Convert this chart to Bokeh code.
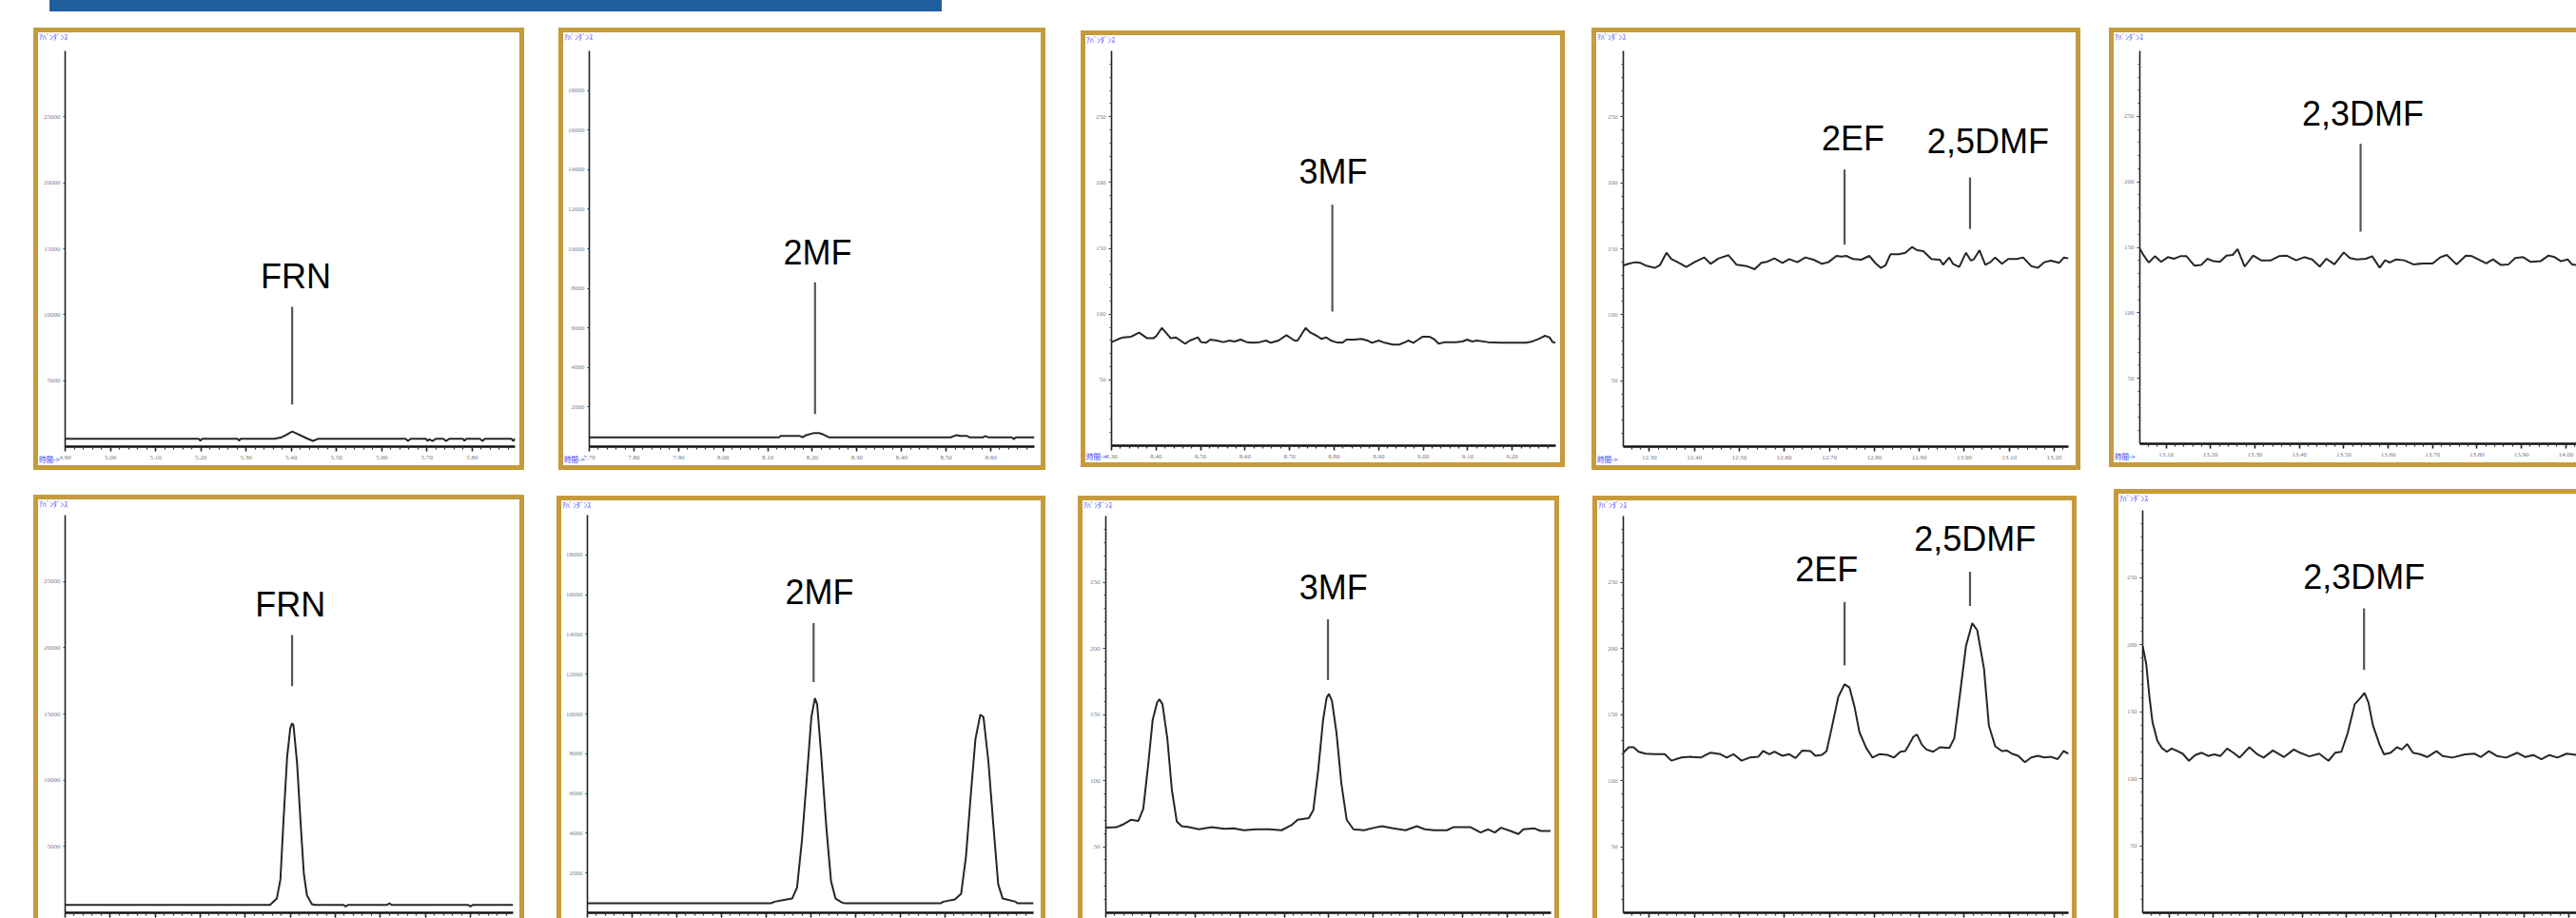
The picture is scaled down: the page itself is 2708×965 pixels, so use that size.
import numpy as np
from bokeh.plotting import figure
from bokeh.models import (ColumnDataSource, FixedTicker, PrintfTickFormatter,
                          Range1d, Spacer, Div)
from bokeh.layouts import row, column
from bokeh.core.properties import value
from bokeh.embed import file_html
from bokeh.resources import INLINE

# ====================== DATA ======================
# tick labels (retention time, min) and abundance ticks
x_ticks_frn = [4.90, 5.00, 5.10, 5.20, 5.30, 5.40, 5.50, 5.60, 5.70, 5.80]
x_ticks_2mf = [7.70, 7.80, 7.90, 8.00, 8.10, 8.20, 8.30, 8.40, 8.50, 8.60]
x_ticks_3mf = [8.30, 8.40, 8.50, 8.60, 8.70, 8.80, 8.90, 9.00, 9.10, 9.20]
x_ticks_ef = [12.30, 12.40, 12.50, 12.60, 12.70, 12.80, 12.90, 13.00, 13.10, 13.20]
x_ticks_dmf = [13.10, 13.20, 13.30, 13.40, 13.50, 13.60, 13.70, 13.80, 13.90, 14.00]
y_ticks_frn = [5000, 10000, 15000, 20000, 25000]
y_ticks_2mf = [2000, 4000, 6000, 8000, 10000, 12000, 14000, 16000, 18000]
y_ticks_low = [50, 100, 150, 200, 250]

# --- top row (sample) ---
frn_top_t = [4.900, 5.195, 5.199, 5.203, 5.281, 5.285, 5.288, 5.363, 5.378, 5.389, 5.402, 5.415,
             5.433, 5.448, 5.460, 5.653, 5.658, 5.664, 5.698, 5.701, 5.705, 5.713, 5.720, 5.736,
             5.742, 5.750, 5.779, 5.783, 5.787, 5.817, 5.823, 5.828, 5.887, 5.891, 5.895]
frn_top_y = [600, 600, 450, 600, 600, 450, 600, 600, 700, 900, 1150, 950, 650, 430, 600, 600,
             430, 600, 600, 430, 550, 430, 600, 600, 430, 600, 600, 450, 600, 600, 430, 600,
             600, 430, 600]

mf2_top_t = [7.700, 8.125, 8.129, 8.172, 8.178, 8.186, 8.204, 8.215, 8.226, 8.237, 8.510, 8.523,
             8.532, 8.547, 8.552, 8.583, 8.588, 8.594, 8.647, 8.652, 8.656, 8.698]
mf2_top_y = [470, 470, 540, 540, 470, 580, 690, 690, 600, 470, 470, 580, 540, 540, 470, 470,
             540, 470, 470, 380, 470, 470]

mf3_top_t = [8.300, 8.316, 8.326, 8.344, 8.362, 8.380, 8.394, 8.401, 8.413, 8.433,
             8.444, 8.455, 8.465, 8.476, 8.494, 8.501, 8.512, 8.522, 8.536, 8.551,
             8.565, 8.576, 8.590, 8.604, 8.618, 8.633, 8.647, 8.658, 8.675, 8.693,
             8.711, 8.718, 8.736, 8.747, 8.761, 8.772, 8.782, 8.793, 8.804, 8.818,
             8.828, 8.846, 8.861, 8.875, 8.885, 8.900, 8.914, 8.932, 8.946, 8.960,
             8.967, 8.978, 8.989, 8.999, 9.014, 9.024, 9.035, 9.049, 9.074, 9.088,
             9.099, 9.110, 9.121, 9.145, 9.174, 9.202, 9.231, 9.245, 9.259, 9.274,
             9.284, 9.291, 9.297]
mf3_top_y = [78.7, 81.1, 82.3, 82.8, 85.9, 81.6, 81.6, 83.5, 89.5, 81.6,
             82.3, 79.9, 77.5, 79.9, 82.3, 78.7, 78.2, 80.6, 79.9, 78.7,
             79.9, 79.2, 80.6, 78.7, 78.2, 78.7, 79.9, 78.2, 79.9, 84.0,
             79.9, 79.9, 89.5, 85.9, 83.5, 81.1, 82.3, 79.9, 78.7, 78.2,
             80.6, 80.6, 81.1, 79.9, 78.2, 79.9, 78.2, 76.8, 76.8, 78.7,
             79.9, 78.2, 80.6, 82.8, 82.8, 81.1, 77.5, 78.7, 78.7, 79.2,
             80.6, 79.2, 79.9, 78.7, 78.2, 78.2, 78.2, 79.2, 81.1, 83.5,
             82.3, 78.7, 78.2]

ef_top_t = [12.242, 12.254, 12.269, 12.280, 12.291, 12.312, 12.323, 12.338, 12.349, 12.363,
            12.382, 12.400, 12.422, 12.436, 12.454, 12.476, 12.494, 12.516, 12.534, 12.549,
            12.563, 12.578, 12.596, 12.611, 12.629, 12.647, 12.665, 12.684, 12.698, 12.716,
            12.727, 12.738, 12.753, 12.771, 12.789, 12.804, 12.815, 12.825, 12.836, 12.855,
            12.869, 12.884, 12.895, 12.909, 12.927, 12.946, 12.953, 12.967, 12.975, 12.989,
            13.004, 13.015, 13.022, 13.034, 13.047, 13.058, 13.069, 13.084, 13.098, 13.117,
            13.131, 13.149, 13.164, 13.178, 13.193, 13.211, 13.222, 13.232]
ef_top_y = [137.4, 138.6, 139.8, 139.3, 137.4, 135.5, 137.4, 147.0, 142.2, 139.8,
            136.2, 139.8, 143.4, 138.6, 142.7, 145.1, 137.9, 136.9, 134.5, 139.3,
            140.3, 142.7, 139.3, 142.2, 139.8, 143.4, 141.7, 138.6, 139.8, 144.6,
            144.1, 144.6, 142.2, 141.7, 144.6, 138.6, 135.5, 137.4, 145.8, 145.8,
            147.0, 151.3, 148.9, 148.2, 142.2, 141.7, 137.9, 143.4, 138.6, 136.2,
            147.0, 141.0, 142.2, 148.9, 137.9, 139.8, 143.4, 138.6, 142.2, 142.2,
            143.4, 136.9, 135.5, 139.8, 141.0, 139.3, 143.4, 142.7]

dmf_top_t = [13.041, 13.050, 13.061, 13.075, 13.089, 13.104, 13.118, 13.132, 13.146, 13.164,
             13.179, 13.193, 13.207, 13.221, 13.236, 13.250, 13.261, 13.277, 13.296, 13.314,
             13.336, 13.354, 13.371, 13.393, 13.411, 13.429, 13.446, 13.461, 13.479, 13.500,
             13.514, 13.529, 13.550, 13.564, 13.581, 13.593, 13.604, 13.618, 13.636, 13.657,
             13.679, 13.700, 13.718, 13.732, 13.754, 13.775, 13.789, 13.807, 13.821, 13.836,
             13.854, 13.871, 13.886, 13.904, 13.921, 13.943, 13.961, 13.975, 13.989, 14.004,
             14.014, 14.024]
dmf_top_y = [149.0, 143.7, 138.4, 143.2, 138.9, 142.5, 141.3, 143.2, 143.2, 136.0,
             136.5, 141.3, 139.4, 138.9, 143.7, 144.2, 148.6, 135.3, 143.7, 140.1,
             140.1, 143.2, 143.7, 140.1, 142.5, 140.8, 135.3, 141.3, 137.0, 146.1,
             141.8, 140.8, 141.3, 143.2, 134.5, 140.1, 138.4, 140.8, 140.1, 137.0,
             137.7, 137.7, 142.5, 144.2, 137.0, 143.7, 143.2, 140.1, 137.7, 140.8,
             136.5, 137.0, 141.8, 142.5, 138.9, 139.4, 143.7, 142.5, 139.4, 140.8,
             137.0, 136.5]

# --- bottom row (standard) ---
frn_bot_t = [4.900, 5.355, 5.370, 5.378, 5.385, 5.393, 5.400, 5.404, 5.407, 5.415, 5.422, 5.430,
             5.437, 5.448, 5.456, 5.518, 5.523, 5.528, 5.615, 5.620, 5.625, 5.795, 5.800, 5.805,
             5.895]
frn_bot_y = [595, 595, 1071, 2500, 7024, 11786, 13929, 14286, 14167, 11310, 7262, 2976,
             1310, 643, 595, 595, 480, 595, 595, 720, 595, 595, 480, 595, 595]

mf2_bot_t = [7.700, 8.110, 8.119, 8.137, 8.158, 8.169, 8.180, 8.191, 8.201, 8.209,
             8.214, 8.223, 8.234, 8.245, 8.255, 8.270, 8.277, 8.490, 8.496, 8.522,
             8.536, 8.547, 8.558, 8.568, 8.579, 8.586, 8.597, 8.608, 8.619, 8.629,
             8.658, 8.662, 8.698]
mf2_bot_y = [476, 476, 556, 635, 714, 1270, 3651, 6825, 9841, 10794,
             10476, 7937, 4444, 1587, 714, 508, 476, 476, 556, 667,
             952, 2857, 6032, 8730, 9968, 9841, 7619, 4444, 1429, 714,
             556, 476, 476]

mf3_bot_t = [8.300, 8.324, 8.338, 8.356, 8.373, 8.384, 8.395, 8.405, 8.415, 8.420,
             8.427, 8.438, 8.448, 8.459, 8.470, 8.487, 8.509, 8.537, 8.566, 8.587,
             8.609, 8.637, 8.666, 8.694, 8.716, 8.730, 8.755, 8.765, 8.776, 8.787,
             8.795, 8.800, 8.807, 8.817, 8.828, 8.840, 8.855, 8.879, 8.901, 8.919,
             8.944, 8.972, 8.997, 9.015, 9.036, 9.065, 9.079, 9.118, 9.140, 9.157,
             9.172, 9.186, 9.207, 9.225, 9.236, 9.261, 9.275, 9.297]
mf3_bot_y = [64.3, 64.7, 66.7, 70.3, 69.5, 78.7, 112.2, 145.8, 159.0, 161.4,
             157.8, 131.4, 93.0, 69.1, 65.5, 64.7, 63.1, 64.7, 63.5, 63.8,
             62.4, 63.1, 63.1, 62.4, 66.2, 70.3, 71.5, 77.5, 107.4, 145.8,
             162.6, 165.5, 160.2, 136.2, 97.8, 70.3, 63.1, 62.4, 64.3, 65.5,
             63.8, 62.4, 65.5, 63.1, 62.4, 62.4, 64.7, 64.7, 60.7, 63.1,
             60.7, 64.3, 61.9, 59.5, 63.1, 63.8, 61.9, 61.9]

ef_bot_t = [12.242, 12.254, 12.265, 12.276, 12.291, 12.312, 12.334, 12.349, 12.371, 12.392,
            12.414, 12.436, 12.458, 12.472, 12.487, 12.505, 12.523, 12.542, 12.553, 12.567,
            12.578, 12.596, 12.611, 12.625, 12.640, 12.658, 12.669, 12.684, 12.694, 12.705,
            12.720, 12.734, 12.745, 12.756, 12.767, 12.782, 12.796, 12.811, 12.829, 12.844,
            12.858, 12.869, 12.876, 12.887, 12.895, 12.906, 12.916, 12.931, 12.946, 12.967,
            12.978, 12.989, 13.004, 13.018, 13.029, 13.044, 13.055, 13.069, 13.084, 13.095,
            13.106, 13.120, 13.135, 13.149, 13.164, 13.178, 13.193, 13.208, 13.221, 13.232]
ef_bot_y = [121.1, 125.2, 125.2, 121.8, 120.3, 119.9, 119.9, 115.0, 117.4, 117.9,
            117.4, 121.1, 119.9, 117.4, 119.9, 115.0, 117.4, 117.9, 122.3, 119.9,
            121.8, 118.7, 119.9, 117.0, 122.7, 122.3, 118.7, 119.4, 122.3, 139.1,
            163.2, 172.8, 170.4, 156.0, 136.7, 124.7, 117.4, 119.9, 119.4, 117.4,
            121.8, 122.3, 126.2, 133.1, 134.8, 127.1, 123.5, 121.8, 125.2, 124.7,
            131.9, 160.8, 201.7, 219.0, 213.7, 184.8, 141.5, 125.9, 122.3, 122.7,
            120.3, 118.7, 113.8, 117.4, 118.7, 117.4, 117.9, 116.2, 122.3, 120.3]

dmf_bot_t = [13.041, 13.049, 13.056, 13.063, 13.074, 13.084, 13.095, 13.106, 13.116, 13.131,
             13.145, 13.159, 13.174, 13.188, 13.202, 13.216, 13.231, 13.245, 13.259, 13.281,
             13.299, 13.313, 13.334, 13.359, 13.381, 13.395, 13.416, 13.438, 13.459, 13.474,
             13.488, 13.502, 13.518, 13.531, 13.540, 13.549, 13.559, 13.574, 13.584, 13.599,
             13.613, 13.624, 13.636, 13.649, 13.666, 13.681, 13.702, 13.716, 13.738, 13.766,
             13.788, 13.802, 13.820, 13.838, 13.859, 13.884, 13.902, 13.920, 13.938, 13.956,
             13.974, 13.995, 14.019]
dmf_bot_y = [198.8, 185.5, 161.4, 142.2, 128.2, 122.9, 120.0, 122.4, 121.0, 118.6,
             113.3, 117.6, 119.3, 116.9, 118.1, 116.9, 122.4, 119.3, 115.7, 123.4,
             118.1, 115.7, 121.0, 116.1, 121.7, 119.3, 116.6, 118.6, 113.3, 119.3,
             120.0, 133.7, 155.4, 160.2, 163.9, 156.6, 139.8, 125.3, 118.1, 119.3,
             123.4, 121.7, 125.8, 119.3, 118.1, 116.1, 120.5, 116.9, 115.7, 118.1,
             118.6, 116.1, 120.5, 116.9, 115.7, 119.3, 116.1, 117.6, 114.5, 117.6,
             115.7, 118.6, 117.6]

# peak annotations: names, label centre, marker line (x, y from, y to)
frn_top_names, frn_top_tx, frn_top_ty = ["FRN"], [5.41], [12930]
frn_top_lx, frn_top_ly0, frn_top_ly1 = [5.402], [3200], [10600]
mf2_top_names, mf2_top_tx, mf2_top_ty = ["2MF"], [8.212], [9820]
mf2_top_lx, mf2_top_ly0, mf2_top_ly1 = [8.206], [1650], [8300]
mf3_top_names, mf3_top_tx, mf3_top_ty = ["3MF"], [8.798], [208.4]
mf3_top_lx, mf3_top_ly0, mf3_top_ly1 = [8.796], [102], [183]
ef_top_names, ef_top_tx, ef_top_ty = ["2EF", "2,5DMF"], [12.753, 13.053], [233.4, 231.4]
ef_top_lx, ef_top_ly0, ef_top_ly1 = [12.734, 13.013], [153, 165], [210, 204]
dmf_top_names, dmf_top_tx, dmf_top_ty = ["2,3DMF"], [13.543], [252.4]
dmf_top_lx, dmf_top_ly0, dmf_top_ly1 = [13.538], [162], [229]

frn_bot_names, frn_bot_tx, frn_bot_ty = ["FRN"], [5.400], [23230]
frn_bot_lx, frn_bot_ly0, frn_bot_ly1 = [5.404], [17100], [20950]
mf2_bot_names, mf2_bot_tx, mf2_bot_ty = ["2MF"], [8.219], [16120]
mf2_bot_lx, mf2_bot_ly0, mf2_bot_ly1 = [8.206], [11600], [14570]
mf3_bot_names, mf3_bot_tx, mf3_bot_ty = ["3MF"], [8.810], [246.4]
mf3_bot_lx, mf3_bot_ly0, mf3_bot_ly1 = [8.798], [176], [222]
ef_bot_names, ef_bot_tx, ef_bot_ty = ["2EF", "2,5DMF"], [12.694, 13.024], [259.4, 282.4]
ef_bot_lx, ef_bot_ly0, ef_bot_ly1 = [12.734, 13.013], [187, 232], [235, 258]
dmf_bot_names, dmf_bot_tx, dmf_bot_ty = ["2,3DMF"], [13.539], [250.4]
dmf_bot_lx, dmf_bot_ly0, dmf_bot_ly1 = [13.539], [181], [227]

y_axis_name = "ｱﾊﾞﾝﾀﾞﾝｽ"
x_axis_name = "時間->"

# ====================== STYLE / LAYOUT ======================
GOLD = "#C59B3B"
BLUE_BAR = "#1F5E9E"
TRACE = "#262626"
TAG_BLUE = "#3a3aff"

BAR_LEFT, BAR_W, BAR_H = 52, 938, 12
GAP_BAR_ROW1, GAP_ROWS = 22, 30


def shadow_css(sides, b=5, c=GOLD):
    parts = []
    if "l" in sides: parts.append(f"-{b}px 0 0 0 {c}")
    if "r" in sides: parts.append(f"{b}px 0 0 0 {c}")
    if "t" in sides: parts.append(f"0 -{b}px 0 0 {c}")
    if "b" in sides: parts.append(f"0 {b}px 0 0 {c}")
    if "l" in sides and "t" in sides: parts.append(f"-{b}px -{b}px 0 0 {c}")
    if "r" in sides and "t" in sides: parts.append(f"{b}px -{b}px 0 0 {c}")
    if "l" in sides and "b" in sides: parts.append(f"-{b}px {b}px 0 0 {c}")
    if "r" in sides and "b" in sides: parts.append(f"{b}px {b}px 0 0 {c}")
    return {"box-shadow": ", ".join(parts)}


def minor(start, stop, step):
    return [round(v, 3) for v in np.arange(start, stop + 1e-9, step)]


def build(t, y, xr, ytop, xt, yt, names, tx, ty, lx, ly0, ly1,
          W, H, fr, sides, fine_y, xlabels):
    fl, frt, ft, fb = fr
    p = figure(width=W, height=H, output_backend="svg", toolbar_location=None, tools="",
               x_range=Range1d(*xr), y_range=Range1d(0, ytop),
               min_border_left=fl, min_border_right=frt, min_border_top=ft, min_border_bottom=fb,
               styles=shadow_css(sides))
    p.outline_line_color = None
    p.xgrid.visible = False
    p.ygrid.visible = False
    p.background_fill_color = "white"
    p.border_fill_color = "white"

    p.line(t, y, line_color=TRACE, line_width=2)
    p.segment(x0=lx, y0=ly0, x1=lx, y1=ly1, line_color="#555555", line_width=2.2)
    src = ColumnDataSource(dict(x=tx, y=ty, text=names))
    p.text(x="x", y="y", text="text", source=src, text_font=value("Liberation Sans"),
           text_font_size="36px", text_align="center", text_baseline="middle",
           text_color="black")

    xa = p.xaxis[0]
    xa.ticker = FixedTicker(ticks=xt, minor_ticks=minor(round(xt[0] - 0.1, 2), xr[1], 0.02))
    xa.formatter = PrintfTickFormatter(format="%.2f")
    xa.axis_line_width = 2.5
    xa.axis_line_color = "#111111"
    xa.major_tick_out = 5
    xa.major_tick_in = 0
    xa.minor_tick_out = 3
    xa.minor_tick_in = 0
    xa.major_tick_line_color = "#111111"
    xa.major_tick_line_width = 1.5
    xa.minor_tick_line_color = "#333333"
    xa.minor_tick_line_width = 1.2
    if xlabels:
        xa.major_label_text_font_size = "7px"
        xa.major_label_text_color = "#777777"
        xa.major_label_standoff = 4
        xa.major_label_text_font = "Liberation Sans Narrow"
    else:
        # labels fall below the picture's edge in the original: not painted
        xa.major_label_text_font_size = "1px"
        xa.major_label_text_color = None
        xa.major_label_standoff = 0

    ya = p.yaxis[0]
    ya.ticker = FixedTicker(ticks=yt, minor_ticks=(minor(10, ytop - 10, 10) if fine_y else []))
    ya.formatter = PrintfTickFormatter(format="%d")
    ya.axis_line_width = 1.6
    ya.axis_line_color = "#222222"
    ya.major_tick_out = 3 if fine_y else 2
    ya.major_tick_in = 0
    ya.minor_tick_out = 2
    ya.minor_tick_in = 0
    ya.major_tick_line_color = "#333333"
    ya.minor_tick_line_color = "#444444"
    ya.major_label_text_font_size = "7px"
    ya.major_label_text_color = "#808080"
    ya.major_label_standoff = 3
    ya.major_label_text_font = "Liberation Sans Narrow"
    return p


def tag(text, x, y):
    return Div(text=text, width=40, height=11, margin=0,
               styles={"position": "absolute", "left": f"{x}px", "top": f"{y}px",
                       "z-index": "5", "font-family": "'Noto Sans CJK JP'",
                       "font-size": "7.5px", "line-height": "10px", "color": TAG_BLUE,
                       "white-space": "nowrap", "pointer-events": "none"})


def place(p, dy):
    if dy:
        return column(Spacer(width=p.width, height=dy), p)
    return p

# (gap before, dy, width, height, frame l/r/t/b, border sides)
top_layout = [
    (40, 0, 506, 455, (28, 5, 18, 19), "lrtb"),
    (46, 0, 502, 455, (27, 7, 18, 18), "lrtb"),
    (47, 3, 499, 449, (27, 5, 16, 18), "lrtb"),
    (38, 0, 504, 455, (28, 8, 18, 20), "lrtb"),
    (40, 0, 486, 452, (27, 0, 19, 20), "ltb"),
]
bot_layout = [
    (40, 6, 506, 440, (28, 7, 16, 6), "lrt"),
    (44, 7, 504, 439, (27, 8, 15, 6), "lrt"),
    (44, 7, 496, 439, (24, 4, 16, 6), "lrt"),
    (45, 7, 499, 439, (27, 4, 16, 6), "lrt"),
    (49, 0, 481, 446, (25, 0, 17, 6), "lt"),
]

top_specs = [
    (frn_top_t, frn_top_y, (4.90, 5.895), 30000, x_ticks_frn, y_ticks_frn,
     frn_top_names, frn_top_tx, frn_top_ty, frn_top_lx, frn_top_ly0, frn_top_ly1, False),
    (mf2_top_t, mf2_top_y, (7.70, 8.698), 20000, x_ticks_2mf, y_ticks_2mf,
     mf2_top_names, mf2_top_tx, mf2_top_ty, mf2_top_lx, mf2_top_ly0, mf2_top_ly1, False),
    (mf3_top_t, mf3_top_y, (8.30, 9.298), 300, x_ticks_3mf, y_ticks_low,
     mf3_top_names, mf3_top_tx, mf3_top_ty, mf3_top_lx, mf3_top_ly0, mf3_top_ly1, True),
    (ef_top_t, ef_top_y, (12.242, 13.232), 300, x_ticks_ef, y_ticks_low,
     ef_top_names, ef_top_tx, ef_top_ty, ef_top_lx, ef_top_ly0, ef_top_ly1, True),
    (dmf_top_t, dmf_top_y, (13.041, 14.024), 300, x_ticks_dmf, y_ticks_low,
     dmf_top_names, dmf_top_tx, dmf_top_ty, dmf_top_lx, dmf_top_ly0, dmf_top_ly1, True),
]
bot_specs = [
    (frn_bot_t, frn_bot_y, (4.90, 5.895), 30000, x_ticks_frn, y_ticks_frn,
     frn_bot_names, frn_bot_tx, frn_bot_ty, frn_bot_lx, frn_bot_ly0, frn_bot_ly1, False),
    (mf2_bot_t, mf2_bot_y, (7.70, 8.698), 20000, x_ticks_2mf, y_ticks_2mf,
     mf2_bot_names, mf2_bot_tx, mf2_bot_ty, mf2_bot_lx, mf2_bot_ly0, mf2_bot_ly1, False),
    (mf3_bot_t, mf3_bot_y, (8.30, 9.298), 300, x_ticks_3mf, y_ticks_low,
     mf3_bot_names, mf3_bot_tx, mf3_bot_ty, mf3_bot_lx, mf3_bot_ly0, mf3_bot_ly1, True),
    (ef_bot_t, ef_bot_y, (12.242, 13.232), 300, x_ticks_ef, y_ticks_low,
     ef_bot_names, ef_bot_tx, ef_bot_ty, ef_bot_lx, ef_bot_ly0, ef_bot_ly1, True),
    (dmf_bot_t, dmf_bot_y, (13.041, 14.017), 300, x_ticks_dmf, y_ticks_low,
     dmf_bot_names, dmf_bot_tx, dmf_bot_ty, dmf_bot_lx, dmf_bot_ly0, dmf_bot_ly1, True),
]


def make_row(specs, layout, xlabels, row_top, tags):
    kids = []
    x = 0
    for spec, lay in zip(specs, layout):
        gap, dy, W, H, fr, sides = lay
        (t, y, xr, ytop, xt, yt, names, tx, ty, lx, ly0, ly1, fine_y) = spec
        p = build(t, y, xr, ytop, xt, yt, names, tx, ty, lx, ly0, ly1,
                  W, H, fr, sides, fine_y, xlabels)
        kids.append(Spacer(width=gap, height=2))
        kids.append(place(p, dy))
        x += gap
        top = row_top + dy
        tags.append(tag(y_axis_name, x + 1, top))
        if xlabels:
            tags.append(tag(x_axis_name, x + 1, top + H - 11))
        x += W
    return row(*kids)


tags = []
row1_top = BAR_H + GAP_BAR_ROW1
row1_h = max(l[1] + l[3] for l in top_layout)
row2_top = row1_top + row1_h + GAP_ROWS

bar = row(Spacer(width=BAR_LEFT, height=BAR_H),
          Div(text="", width=BAR_W, height=BAR_H, margin=0,
              styles={"background-color": BLUE_BAR}))
row1 = make_row(top_specs, top_layout, True, row1_top, tags)
row2 = make_row(bot_specs, bot_layout, False, row2_top, tags)

root = column(bar, Spacer(width=10, height=GAP_BAR_ROW1), row1,
              Spacer(width=10, height=GAP_ROWS), row2, *tags,
              styles={"position": "relative"})

open("out.html", "w").write(file_html(root, INLINE))
